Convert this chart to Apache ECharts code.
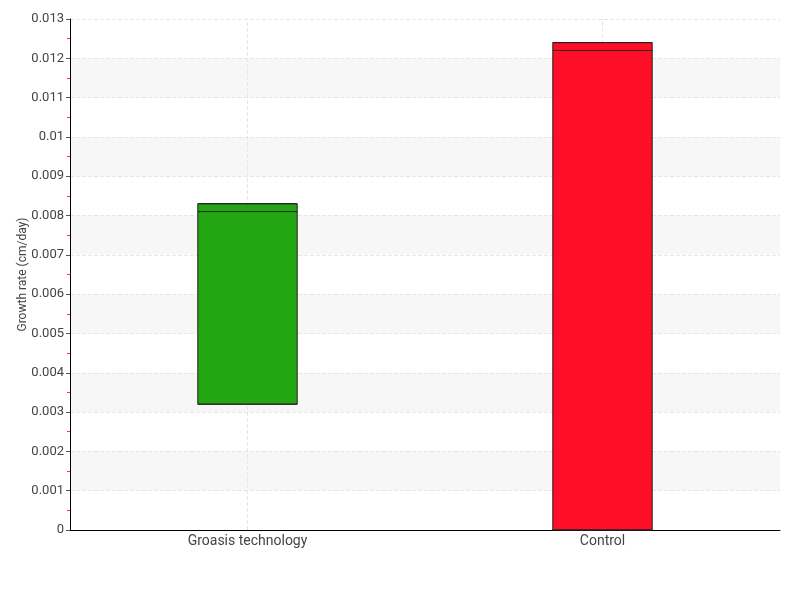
<!DOCTYPE html>
<html><head><meta charset="utf-8">
<script src="https://cdn.jsdelivr.net/npm/echarts@6/dist/echarts.min.js"></script>
<style>html,body{margin:0;padding:0;background:#fff}#c{width:800px;height:600px}</style>
</head><body><div id="c"></div>
<script>
var categories = ['Groasis technology', 'Control'];
// [min, Q1, median, Q3, max]
var boxValues = [
  [0.0032, 0.0032, 0.0081, 0.0083, 0.0083],
  [0, 0, 0.0122, 0.0124, 0.0124]
];
var boxColors = ['#22a612', '#ff0f27'];
var yTicks = [0, 0.001, 0.002, 0.003, 0.004, 0.005, 0.006, 0.007, 0.008, 0.009, 0.01, 0.011, 0.012, 0.013];

var font = 'Roboto, "DejaVu Sans Condensed", sans-serif';
var chart = echarts.init(document.getElementById('c'));
chart.setOption({
  animation: false,
  grid: {left: 70, right: 20, top: 19, bottom: 70, outerBoundsMode: 'none', containLabel: false},
  xAxis: {
    type: 'category',
    data: categories,
    axisLine: {lineStyle: {color: '#000', width: 1}},
    axisTick: {show: false},
    axisLabel: {color: '#444', fontFamily: font, fontSize: 14, margin: 4},
    splitLine: {show: false}
  },
  yAxis: {
    type: 'value',
    min: 0, max: yTicks[yTicks.length - 1], interval: 0.001,
    name: 'Growth rate (cm/day)',
    nameLocation: 'middle',
    nameGap: 41,
    nameMoveOverlap: false,
    nameTextStyle: {color: '#444', fontFamily: font, fontSize: 12},
    axisLine: {show: true, lineStyle: {color: '#000', width: 1}},
    axisTick: {show: true, length: 4, lineStyle: {color: '#555'}},
    minorTick: {show: true, splitNumber: 2, length: 3, lineStyle: {color: '#ff3030'}},
    axisLabel: {color: '#444', fontFamily: font, fontSize: 13, margin: 6,
      formatter: function (v) { return String(+v.toFixed(3)); }},
    splitLine: {show: true, lineStyle: {type: 'dashed', color: '#e6e6e6'}},
    splitArea: {show: true, areaStyle: {color: ['rgba(255,255,255,0)', '#f7f7f7']}}
  },
  series: [{
    type: 'line',
    data: [],
    z: 1,
    silent: true,
    markLine: {
      z: 1,
      silent: true,
      symbol: ['none', 'none'],
      label: {show: false},
      lineStyle: {type: 'dashed', color: '#e6e6e6', width: 1},
      data: categories.map(function (c) { return {xAxis: c}; })
    }
  }, {
    type: 'boxplot',
    z: 3,
    boxWidth: ['28%', '28%'],
    data: boxValues.map(function (v, i) {
      return {value: v, itemStyle: {color: boxColors[i], borderColor: '#222', borderWidth: 1}};
    })
  }]
});
</script></body></html>
